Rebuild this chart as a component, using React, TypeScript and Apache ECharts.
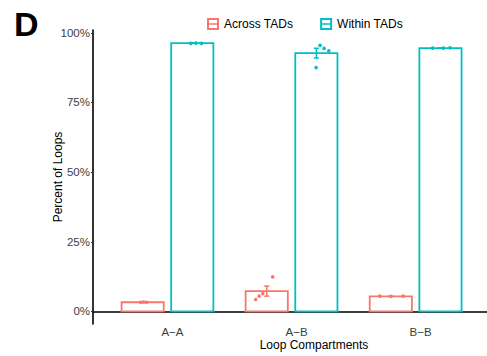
import React, { useEffect, useRef } from "react";
import * as echarts from "echarts";

const categories = ["A\u2212A", "A\u2212B", "B\u2212B"];
const seriesNames = ["Across TADs", "Within TADs"];
const yTicks = [0, 25, 50, 75, 100];

const acrossMean = [3.3, 7.3, 5.4];
const acrossSE = [0.08, 1.8, 0.05];
const withinMean = [96.3, 92.7, 94.5];
const withinSE = [0.08, 1.75, 0.05];

const acrossPoints = [
  [3.3, 3.4, 3.3],
  [4.3, 5.5, 6.4, 12.4],
  [5.5, 5.4, 5.5],
];
const acrossJitter = [
  [-0.016, 0.008, 0.032],
  [-0.089, -0.061, -0.032, 0.048],
  [-0.089, 0.0, 0.099],
];
const withinPoints = [
  [96.2, 96.3, 96.2],
  [95.5, 94.4, 93.5, 87.5],
  [94.5, 94.5, 94.6],
];
const withinJitter = [
  [-0.012, 0.03, 0.074],
  [0.03, 0.062, 0.1, -0.002],
  [-0.063, 0.023, 0.077],
];

const RED = "#F8766D";
const TEAL = "#00BFC4";
const FONT = "Liberation Sans, Arial, sans-serif";
const DODGE = 0.2;
const HALF = 0.17;

const legendIcon =
  "path://M0,0 H12 V12 H0 Z M2,2 V5.2 H10 V2 Z M2,6.8 V10 H10 V6.8 Z";

function makeBarSeries(name: string, color: string, means: number[], ses: number[], off: number) {
  return {
    type: "custom",
    name,
    itemStyle: { color },
    encode: { x: 0, y: 1 },
    data: means.map((m, i) => [i + 1, m, ses[i]]),
    renderItem: (params: any, api: any) => {
      const cx = api.value(0) + off;
      const mean = api.value(1);
      const se = api.value(2);
      const tl = api.coord([cx - HALF, mean]);
      const br = api.coord([cx + HALF, 0]);
      const top = api.coord([cx, mean + se]);
      const bot = api.coord([cx, mean - se]);
      const w = 2.5;
      return {
        type: "group",
        children: [
          {
            type: "rect",
            shape: { x: tl[0], y: tl[1], width: br[0] - tl[0], height: br[1] - tl[1] },
            style: { fill: "#fff", stroke: color, lineWidth: 1.8 },
          },
          {
            type: "line",
            shape: { x1: top[0], y1: top[1], x2: bot[0], y2: bot[1] },
            style: { stroke: color, lineWidth: 1.5 },
          },
          {
            type: "line",
            shape: { x1: top[0] - w, y1: top[1], x2: top[0] + w, y2: top[1] },
            style: { stroke: color, lineWidth: 1.5 },
          },
          {
            type: "line",
            shape: { x1: bot[0] - w, y1: bot[1], x2: bot[0] + w, y2: bot[1] },
            style: { stroke: color, lineWidth: 1.5 },
          },
        ],
      };
    },
    z: 2,
  };
}

function makePointSeries(name: string, color: string, pts: number[][], jit: number[][], off: number) {
  const data: number[][] = [];
  pts.forEach((arr, i) => {
    arr.forEach((v, j) => {
      data.push([i + 1 + off + jit[i][j], v]);
    });
  });
  return {
    type: "scatter",
    name,
    data,
    symbol: "circle",
    symbolSize: 3.6,
    itemStyle: { color, opacity: 1 },
    z: 3,
  };
}

export default function App() {
  const ref = useRef<HTMLDivElement>(null);
  useEffect(() => {
    if (!ref.current) return;
    const chart = echarts.init(ref.current, null, { renderer: "svg" });
    chart.setOption({
      animation: false,
      backgroundColor: "#fff",
      textStyle: { fontFamily: FONT },
      title: {
        text: "D",
        left: 9,
        top: 2,
        textStyle: { fontSize: 34, fontWeight: "bold", color: "#000", fontFamily: FONT },
      },
      legend: {
        data: seriesNames.map((n) => ({ name: n, icon: legendIcon })),
        left: 202,
        top: 13,
        itemWidth: 12,
        itemHeight: 12,
        itemGap: 27,
        textStyle: { fontSize: 12, color: "#000", fontFamily: FONT },
        selectedMode: false,
      },
      grid: { left: 93, right: 0, top: 30, bottom: 32, containLabel: false, outerBoundsMode: "none" },
      xAxis: {
        type: "value",
        min: 0.4,
        max: 3.575,
        splitLine: { show: false },
        axisTick: { show: false },
        axisLine: { show: true, lineStyle: { color: "#000", width: 1.6 } },
        axisLabel: {
          customValues: [1, 2, 3],
          formatter: (v: number) => categories[Math.round(v) - 1] ?? "",
          color: "#3d3d3d",
          fontSize: 11.5,
          margin: 2,
          padding: [0, 0, 0, 10],
          fontFamily: FONT,
        },
        name: "Loop Compartments",
        nameLocation: "middle",
        nameGap: 15,
        nameMoveOverlap: false,
        nameTextStyle: { fontSize: 12, color: "#000", padding: [0, 0, 0, 48], fontFamily: FONT },
      },
      yAxis: {
        type: "value",
        min: -4.5,
        max: 101,
        splitLine: { show: false },
        axisLine: { show: true, lineStyle: { color: "#000", width: 1.6 } },
        axisTick: {
          show: true,
          customValues: yTicks,
          length: 2,
          lineStyle: { color: "#333", width: 1 },
        },
        axisLabel: {
          customValues: yTicks,
          formatter: (v: number) => v + "%",
          color: "#3d3d3d",
          fontSize: 11.5,
          margin: 3,
          fontFamily: FONT,
        },
        name: "Percent of Loops",
        nameLocation: "middle",
        nameGap: 29,
        nameMoveOverlap: false,
        nameTextStyle: { fontSize: 12, color: "#000", fontFamily: FONT },
      },
      series: [
        makeBarSeries(seriesNames[0], RED, acrossMean, acrossSE, -DODGE),
        makeBarSeries(seriesNames[1], TEAL, withinMean, withinSE, DODGE),
        makePointSeries(seriesNames[0], RED, acrossPoints, acrossJitter, -DODGE),
        makePointSeries(seriesNames[1], TEAL, withinPoints, withinJitter, DODGE),
      ],
    });
    return () => chart.dispose();
  }, []);
  return <div ref={ref} style={{ width: 487, height: 356, position: "absolute", left: 0, top: 0 }} />;
}
